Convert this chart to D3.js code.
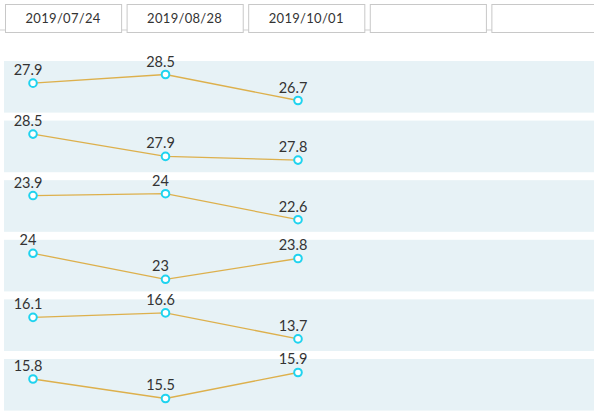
<!DOCTYPE html>
<html>
<head>
<meta charset="utf-8">
<script src="https://cdn.jsdelivr.net/npm/d3@7"></script>
<style>
  body { margin: 0; background: #fff; }
  svg { display: block; font-family: Lato, 'Open Sans', sans-serif; }
</style>
</head>
<body>
<div id="chart"></div>
<script>
// column headers (last two are empty)
const dates = ['2019/07/24', '2019/08/28', '2019/10/01', '', '']

// one small series per row
const row1 = [27.9, 28.5, 26.7]
const row2 = [28.5, 27.9, 27.8]
const row3 = [23.9, 24, 22.6]
const row4 = [24, 23, 23.8]
const row5 = [16.1, 16.6, 13.7]
const row6 = [15.8, 15.5, 15.9]
const rows = [row1, row2, row3, row4, row5, row6]

const width = 594,
      height = 414

const lineColor = '#ddb04c'
const dotColor = '#1fd3ef'
const bandColor = '#e7f2f6'

const svg = d3.select('#chart').append('svg')
              .attr('width', width)
              .attr('height', height)

// header boxes
const xHead = d3.scaleBand()
                .domain(d3.range(dates.length))
                .range([5, 5 + 120.5 * dates.length])
                .paddingInner(0.045)
                .paddingOuter(0)

svg.append('line')
   .attr('x1', 0).attr('x2', width)
   .attr('y1', 30).attr('y2', 30)
   .attr('stroke', '#cfcfcf')

const head = svg.append('g').selectAll('g')
                .data(dates).enter()
                .append('g')
                .attr('transform', (d, i) => `translate(${xHead(i)}, 4)`)

head.append('rect')
    .attr('x', 0.5).attr('y', 0.5)
    .attr('width', xHead.bandwidth())
    .attr('height', 28)
    .attr('fill', '#fff')
    .attr('stroke', '#c8c8c8')

head.append('text')
    .attr('x', xHead.bandwidth() / 2)
    .attr('y', 19)
    .attr('text-anchor', 'middle')
    .attr('fill', '#333')
    .style('font-size', '13px')
    .style('letter-spacing', '0.3px')
    .text(d => d)

// rows
const yRow = d3.scaleBand()
               .domain(d3.range(rows.length))
               .range([61, 410.6])
               .paddingInner(0.134)
               .paddingOuter(0)

const xPt = d3.scalePoint()
              .domain(d3.range(3))
              .range([33, 298])

const rowG = svg.append('g').selectAll('g')
                .data(rows).enter()
                .append('g')
                .attr('transform', (d, i) => `translate(0, ${yRow(i)})`)

rowG.append('rect')
    .attr('x', 4)
    .attr('width', width - 4)
    .attr('height', yRow.bandwidth())
    .attr('fill', bandColor)

rowG.each(function (vals) {
  const g = d3.select(this)
  const y = d3.scaleLinear()
              .domain(d3.extent(vals))
              .range([39.5, 13.5])
  const line = d3.line()
                 .x((d, i) => xPt(i))
                 .y(d => y(d))

  g.append('path')
   .attr('d', line(vals))
   .attr('fill', 'none')
   .attr('stroke', lineColor)
   .attr('stroke-width', 1.3)

  g.selectAll('circle')
   .data(vals).enter()
   .append('circle')
   .attr('cx', (d, i) => xPt(i))
   .attr('cy', d => y(d))
   .attr('r', 3.8)
   .attr('fill', '#fff')
   .attr('stroke', dotColor)
   .attr('stroke-width', 2)

  g.selectAll('text')
   .data(vals).enter()
   .append('text')
   .attr('x', (d, i) => xPt(i) - 5)
   .attr('y', d => y(d) - 8)
   .attr('text-anchor', 'middle')
   .attr('fill', '#333')
   .style('font-size', '14.5px')
   .text(d => d)
})
</script>
</body>
</html>
